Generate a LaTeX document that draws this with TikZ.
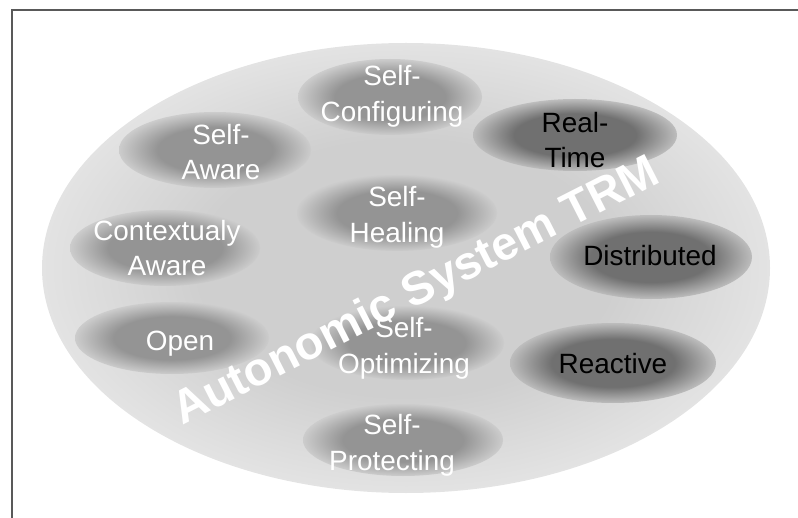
\documentclass[tikz,border=0pt]{standalone}
\usepackage{fontspec}
\setmainfont{Liberation Sans}
\usetikzlibrary{positioning}

% Grey tones of the blobs.
\colorlet{fieldCore}{black!19}
\colorlet{fieldRim}{black!11}
\colorlet{qualityCore}{black!42}
\colorlet{qualityRim}{black!20}
\colorlet{featureCore}{black!56}
\colorlet{featureRim}{black!26}

\pgfdeclareradialshading{fieldshade}{\pgfpoint{0bp}{0bp}}{color(0bp)=(fieldCore); color(14bp)=(fieldCore); color(25bp)=(fieldRim); color(50bp)=(fieldRim)}
\pgfdeclareradialshading{qualityshade}{\pgfpoint{0bp}{0bp}}{color(0bp)=(qualityCore); color(15bp)=(qualityCore); color(25bp)=(qualityRim); color(50bp)=(qualityRim)}
\pgfdeclareradialshading{featureshade}{\pgfpoint{0bp}{0bp}}{color(0bp)=(featureCore); color(15bp)=(featureCore); color(25bp)=(featureRim); color(50bp)=(featureRim)}

\begin{document}
\begin{tikzpicture}[x=1bp, y=-1bp,
	quality/.style={shading=qualityshade},
	feature/.style={shading=featureshade},
	qualitytext/.style={text=white, align=center, inner sep=0pt, font=\fontsize{28}{36}\selectfont},
	featuretext/.style={qualitytext, text=black}]

% Define the frame.

	\useasboundingbox (0,0) rectangle (798,518);
	\coordinate (frameEnd) at (798, 10);
	\coordinate (frameCorner) at (12, 10);
	\coordinate (frameFoot) at (12, 518);

	\draw[black!65, line width=2bp] (frameEnd) -- (frameCorner) -- (frameFoot);

% Colour in.

	%big field
	\shade[shading=fieldshade] (406, 268) ellipse [x radius=364, y radius=225];

	%white blobs
	\shade[quality] (390, 97) ellipse [x radius=92, y radius=38];
	\shade[quality] (215, 150) ellipse [x radius=96, y radius=38];
	\shade[quality] (397, 213) ellipse [x radius=100, y radius=38];
	\shade[quality] (165, 248) ellipse [x radius=95, y radius=38];
	\shade[quality] (172, 338) ellipse [x radius=97, y radius=36];
	\shade[quality] (407, 343) ellipse [x radius=97, y radius=37];
	\shade[quality] (403, 440) ellipse [x radius=100, y radius=36];

	%dark blobs
	\shade[feature] (575, 135) ellipse [x radius=102, y radius=36];
	\shade[feature] (651, 257) ellipse [x radius=101, y radius=42];
	\shade[feature] (613, 363) ellipse [x radius=103, y radius=40];

% Draw the title.

	\node[anchor=base west, rotate=27, inner sep=0pt, text=white, font=\bfseries\fontsize{47}{47}\selectfont] (title) at (182, 426) {Autonomic System TRM};

% Draw blob labels.

	\node[qualitytext] (selfConfig) at (392, 96) {Self-\\Configuring};
	\node[qualitytext] (selfAware) at (221, 152) {Self-\\Aware};
	\node[qualitytext] (selfHeal) at (397, 217) {Self-\\Healing};
	\node[qualitytext] (contextAware) at (167, 248) {Contextualy\\Aware};
	\node[qualitytext] (open) at (180, 344) {Open};
	\node[qualitytext] (selfOpt) at (404, 348) {Self-\\Optimizing};
	\node[qualitytext] (selfProt) at (392, 445) {Self-\\Protecting};

	\node[featuretext] (realTime) at (575, 140) {Real-\\Time};
	\node[featuretext] (distributed) at (650, 256) {Distributed};
	\node[featuretext] (reactive) at (613, 364) {Reactive};

\end{tikzpicture}
\end{document}
